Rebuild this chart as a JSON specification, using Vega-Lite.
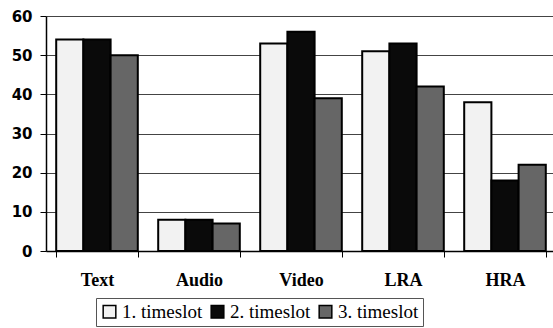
{
  "$schema": "https://vega.github.io/schema/vega-lite/v6.json",
  "width": 510,
  "height": 235,
  "autosize": {"type": "none"},
  "padding": {"left": 46, "top": 16, "right": 0, "bottom": 77},
  "background": "white",
  "config": {"view": {"stroke": null}},
  "data": {
    "values": [
      {"category": "Text", "series": "1. timeslot", "value": 54},
      {"category": "Text", "series": "2. timeslot", "value": 54},
      {"category": "Text", "series": "3. timeslot", "value": 50},
      {"category": "Audio", "series": "1. timeslot", "value": 8},
      {"category": "Audio", "series": "2. timeslot", "value": 8},
      {"category": "Audio", "series": "3. timeslot", "value": 7},
      {"category": "Video", "series": "1. timeslot", "value": 53},
      {"category": "Video", "series": "2. timeslot", "value": 56},
      {"category": "Video", "series": "3. timeslot", "value": 39},
      {"category": "LRA", "series": "1. timeslot", "value": 51},
      {"category": "LRA", "series": "2. timeslot", "value": 53},
      {"category": "LRA", "series": "3. timeslot", "value": 42},
      {"category": "HRA", "series": "1. timeslot", "value": 38},
      {"category": "HRA", "series": "2. timeslot", "value": 18},
      {"category": "HRA", "series": "3. timeslot", "value": 22}
    ]
  },
  "mark": {"type": "bar", "stroke": "black", "strokeWidth": 2},
  "encoding": {
    "x": {
      "field": "category",
      "type": "nominal",
      "sort": ["Text", "Audio", "Video", "LRA", "HRA"],
      "scale": {"paddingInner": 0.2, "paddingOuter": 0.1},
      "axis": {
        "title": null,
        "labelAngle": 0,
        "tickBand": "extent",
        "tickSize": 6,
        "tickColor": "black",
        "domainColor": "black",
        "domainWidth": 1.5,
        "labelFont": "Liberation Serif",
        "labelFontWeight": "bold",
        "labelFontSize": 18,
        "labelColor": "black",
        "labelPadding": 14,
        "grid": false
      }
    },
    "xOffset": {
      "field": "series",
      "type": "nominal",
      "scale": {"paddingInner": 0, "paddingOuter": 0}
    },
    "y": {
      "field": "value",
      "type": "quantitative",
      "scale": {"domain": [0, 60], "nice": false},
      "axis": {
        "title": null,
        "values": [0, 10, 20, 30, 40, 50, 60],
        "tickSize": 6,
        "tickColor": "black",
        "domainColor": "black",
        "domainWidth": 1.5,
        "labelFont": "DejaVu Sans",
        "labelFontWeight": "bold",
        "labelFontSize": 15,
        "labelColor": "black",
        "labelPadding": 8,
        "grid": true,
        "gridColor": "#444444",
        "gridWidth": 1
      }
    },
    "color": {
      "field": "series",
      "type": "nominal",
      "scale": {"range": ["#f2f2f2", "#0a0a0a", "#666666"]},
      "legend": {
        "title": null,
        "orient": "none",
        "legendX": 50,
        "legendY": 282,
        "direction": "horizontal",
        "columns": 3,
        "symbolType": "square",
        "symbolSize": 160,
        "symbolStrokeColor": "black",
        "symbolStrokeWidth": 1.5,
        "symbolOpacity": 1,
        "labelFont": "Liberation Serif",
        "labelFontSize": 19,
        "labelColor": "black",
        "labelOffset": 3,
        "columnPadding": 5,
        "strokeColor": "#555555",
        "padding": 4
      }
    }
  }
}
